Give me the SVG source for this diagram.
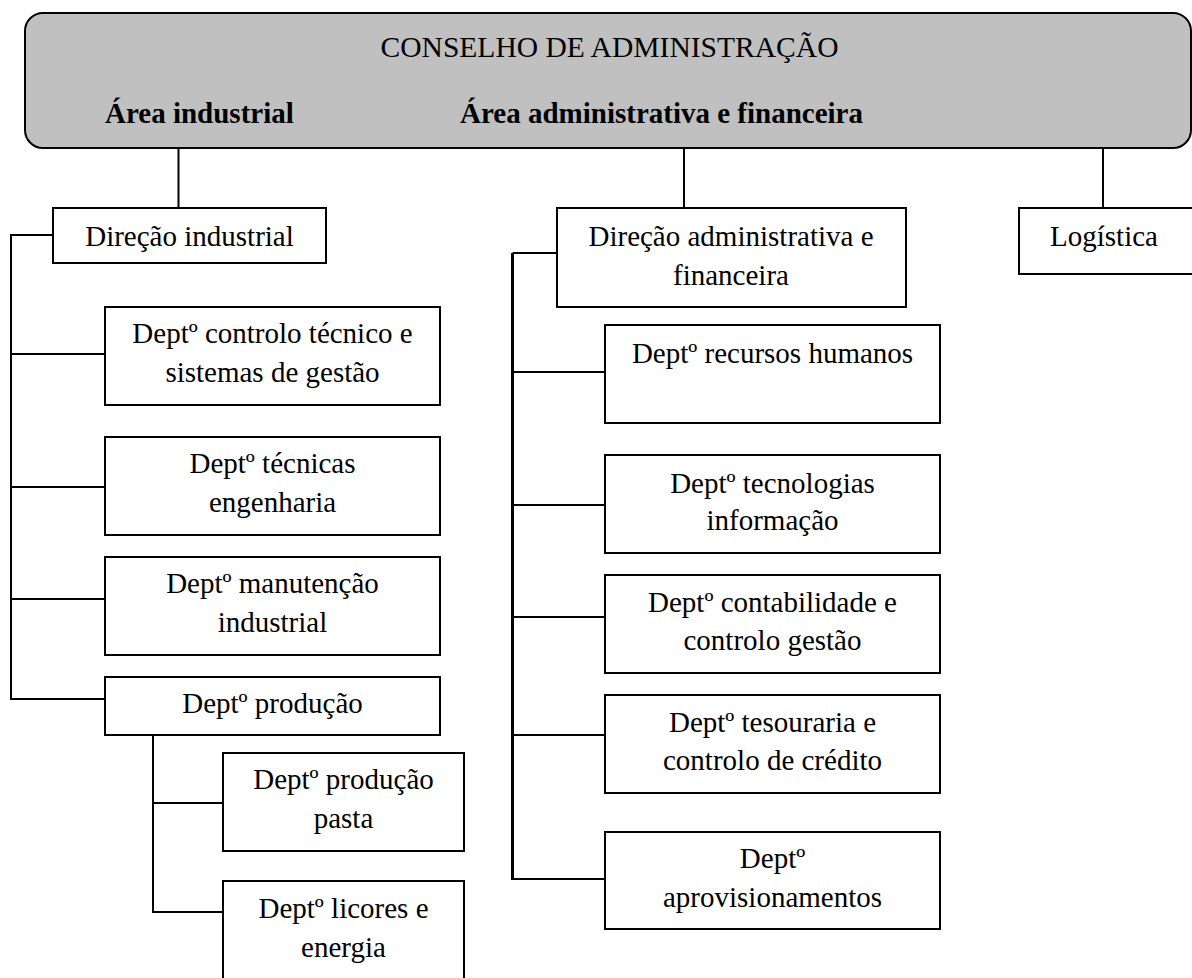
<svg xmlns="http://www.w3.org/2000/svg" width="1192" height="978" viewBox="0 0 1192 978">
<style>
text{font-family:"Liberation Serif","Times New Roman",serif;font-size:29px;fill:#000;text-anchor:middle}
.b{font-weight:bold;text-anchor:start}
.box{fill:#fff;stroke:#000;stroke-width:2}
.ln{fill:none;stroke:#000;stroke-width:2}
.thick{stroke-width:3}
</style>
<rect width="1192" height="978" fill="#fff"/>
<g id="conselho">
<rect x="25" y="13" width="1166" height="135" rx="18" ry="18" fill="#c0c0c0" stroke="#000" stroke-width="2"/>
<text x="609.5" y="57" textLength="458" lengthAdjust="spacingAndGlyphs">CONSELHO DE ADMINISTRAÇÃO</text>
<text class="b" x="105" y="123">Área industrial</text>
<text class="b" x="460" y="123">Área administrativa e financeira</text>
</g>
<g id="connectors">
<path class="ln" d="M178.5 148V208M684 148V208M1103 148V208"/>
<path class="ln" d="M53 235H11V699H105M11 354H105M11 487H105M11 599H105"/>
<path class="ln" d="M153 735V912H223M153 803H223"/>
<path class="ln" d="M557 253H512.5"/>
<path class="ln thick" d="M512.5 253V880"/>
<path class="ln" d="M512 372H605M512 505H605M512 617H605M512 735H605M512 879H605"/>
</g>
<g id="direcao-industrial">
<rect class="box" x="53" y="208" width="273" height="55"/>
<text x="189.5" y="246">Direção industrial</text>
</g>
<g id="direcao-adm">
<rect class="box" x="557" y="208" width="349" height="99"/>
<text x="731" y="246">Direção administrativa e</text>
<text x="731" y="285">financeira</text>
</g>
<g id="logistica">
<rect class="box" x="1019" y="208" width="175" height="66"/>
<text x="1104" y="246">Logística</text>
</g>
<g id="controlo-tecnico">
<rect class="box" x="105" y="307" width="335" height="98"/>
<text x="272.5" y="343">Deptº controlo técnico e</text>
<text x="272.5" y="382">sistemas de gestão</text>
</g>
<g id="tecnicas-engenharia">
<rect class="box" x="105" y="437" width="335" height="98"/>
<text x="272.5" y="473">Deptº técnicas</text>
<text x="272.5" y="512">engenharia</text>
</g>
<g id="manutencao">
<rect class="box" x="105" y="557" width="335" height="98"/>
<text x="272.5" y="593">Deptº manutenção</text>
<text x="272.5" y="632">industrial</text>
</g>
<g id="producao">
<rect class="box" x="105" y="677" width="335" height="58"/>
<text x="272.5" y="713">Deptº produção</text>
</g>
<g id="producao-pasta">
<rect class="box" x="223" y="753" width="241" height="98"/>
<text x="343.5" y="789">Deptº produção</text>
<text x="343.5" y="828">pasta</text>
</g>
<g id="licores-energia">
<rect class="box" x="223" y="881" width="241" height="110"/>
<text x="343.5" y="918">Deptº licores e</text>
<text x="343.5" y="957">energia</text>
</g>
<g id="recursos-humanos">
<rect class="box" x="605" y="325" width="335" height="98"/>
<text x="772.5" y="363">Deptº recursos humanos</text>
</g>
<g id="tecnologias">
<rect class="box" x="605" y="455" width="335" height="98"/>
<text x="772.5" y="493">Deptº tecnologias</text>
<text x="772.5" y="530">informação</text>
</g>
<g id="contabilidade">
<rect class="box" x="605" y="575" width="335" height="98"/>
<text x="772.5" y="612">Deptº contabilidade e</text>
<text x="772.5" y="650">controlo gestão</text>
</g>
<g id="tesouraria">
<rect class="box" x="605" y="695" width="335" height="98"/>
<text x="772.5" y="732">Deptº tesouraria e</text>
<text x="772.5" y="770">controlo de crédito</text>
</g>
<g id="aprovisionamentos">
<rect class="box" x="605" y="832" width="335" height="97"/>
<text x="772.5" y="868">Deptº</text>
<text x="772.5" y="907">aprovisionamentos</text>
</g>
</svg>
